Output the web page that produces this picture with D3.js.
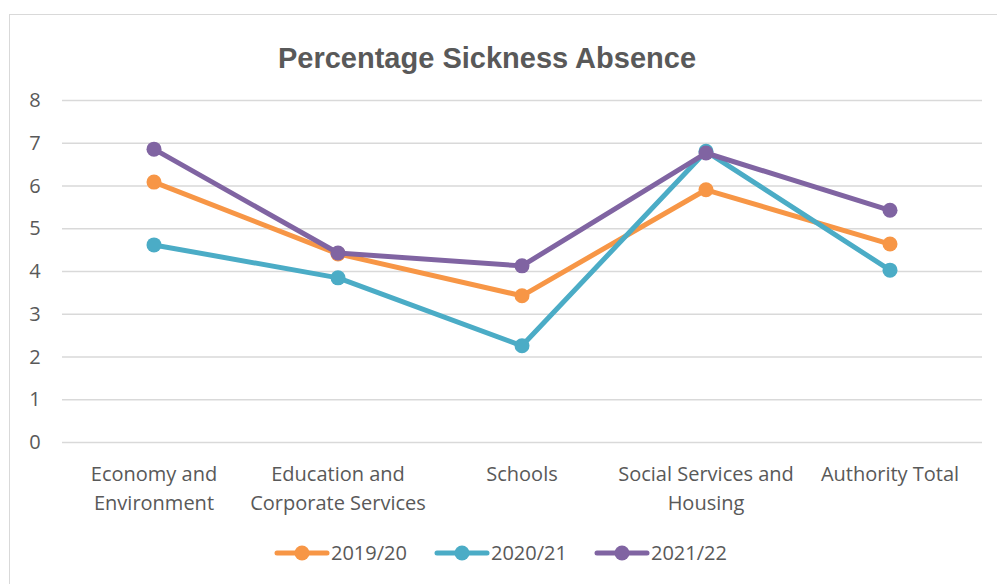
<!DOCTYPE html>
<html>
<head>
<meta charset="utf-8">
<script src="https://cdn.jsdelivr.net/npm/d3@7"></script>
<style>
  body { margin: 0; background: #fff; }
  svg { display: block; }
</style>
</head>
<body>
<script>
// data
const categories = [
	["Economy and", "Environment"],
	["Education and", "Corporate Services"],
	["Schools"],
	["Social Services and", "Housing"],
	["Authority Total"]
];
const seriesNames = ["2019/20", "2020/21", "2021/22"];
const values2019 = [6.08, 4.40, 3.42, 5.90, 4.63];
const values2020 = [4.61, 3.84, 2.25, 6.80, 4.02];
const values2021 = [6.85, 4.42, 4.12, 6.76, 5.42];
const yTicks = [0, 1, 2, 3, 4, 5, 6, 7, 8];
const colors = ["#F79646", "#4BACC6", "#8064A2"];

const width = 997, height = 584;
const plot = { left: 62, right: 982, top: 100, bottom: 442 };
const textColor = "#595959";
const axisFont = "'Open Sans', 'Liberation Sans', sans-serif";

const series = seriesNames.map((name, i) => ({
	name: name,
	color: colors[i],
	values: [values2019, values2020, values2021][i]
}));

const svg = d3.select("body").append("svg")
	.attr("width", width)
	.attr("height", height);

// chart border
svg.append("rect")
	.attr("x", 9.5).attr("y", 14.5)
	.attr("width", width).attr("height", height)
	.attr("fill", "none")
	.attr("stroke", "#d9d9d9")
	.attr("stroke-width", 1);

svg.append("text")
	.attr("x", 487).attr("y", 68)
	.attr("text-anchor", "middle")
	.attr("font-family", "'Liberation Sans', Arial, sans-serif")
	.attr("font-weight", "bold")
	.attr("font-size", 29)
	.attr("fill", textColor)
	.text("Percentage Sickness Absence");

const x = d3.scaleBand()
	.domain(d3.range(categories.length))
	.range([plot.left, plot.right]);

const y = d3.scaleLinear()
	.domain([0, 8])
	.range([plot.bottom, plot.top]);

// gridlines
svg.append("g")
	.selectAll("line")
	.data(yTicks)
	.enter()
	.append("line")
	.attr("x1", plot.left).attr("x2", plot.right)
	.attr("y1", d => y(d) + 0.5).attr("y2", d => y(d) + 0.5)
	.attr("stroke", "#d9d9d9")
	.attr("stroke-width", 1.5);

// y labels
svg.append("g")
	.selectAll("text")
	.data(yTicks)
	.enter()
	.append("text")
	.attr("x", 35)
	.attr("y", d => y(d))
	.attr("dy", "0.35em")
	.attr("text-anchor", "middle")
	.attr("font-family", axisFont)
	.attr("font-size", 20)
	.attr("fill", textColor)
	.text(d => d);

// category labels
const catLabels = svg.append("g")
	.selectAll("text")
	.data(categories)
	.enter()
	.append("text")
	.attr("text-anchor", "middle")
	.attr("font-family", axisFont)
	.attr("font-size", 20)
	.attr("fill", textColor)
	.attr("transform", (d, i) => `translate(${x(i) + x.bandwidth() / 2},481)`);

catLabels.selectAll("tspan")
	.data(d => d)
	.enter()
	.append("tspan")
	.attr("x", 0)
	.attr("y", (d, j) => j * 29)
	.text(d => d);

const line = d3.line()
	.x((d, i) => x(i) + x.bandwidth() / 2)
	.y(d => y(d));

const groups = svg.append("g")
	.selectAll("g")
	.data(series)
	.enter()
	.append("g");

groups.append("path")
	.attr("d", d => line(d.values))
	.attr("fill", "none")
	.attr("stroke", d => d.color)
	.attr("stroke-width", 5)
	.attr("stroke-linejoin", "round")
	.attr("stroke-linecap", "round");

groups.selectAll("circle")
	.data(d => d.values.map(v => ({ v: v, color: d.color })))
	.enter()
	.append("circle")
	.attr("cx", (d, i) => x(i) + x.bandwidth() / 2)
	.attr("cy", d => y(d.v))
	.attr("r", 7.5)
	.attr("fill", d => d.color);

// legend
const legend = svg.append("g")
	.selectAll("g")
	.data(series)
	.enter()
	.append("g")
	.attr("transform", (d, i) => `translate(${277 + i * 160},553)`);

legend.append("line")
	.attr("x1", 0).attr("x2", 50)
	.attr("stroke", d => d.color)
	.attr("stroke-width", 5)
	.attr("stroke-linecap", "round");

legend.append("circle")
	.attr("cx", 25)
	.attr("r", 7.5)
	.attr("fill", d => d.color);

legend.append("text")
	.attr("x", 54)
	.attr("dy", "0.35em")
	.attr("font-family", axisFont)
	.attr("font-size", 20)
	.attr("fill", textColor)
	.text(d => d.name);
</script>
</body>
</html>
